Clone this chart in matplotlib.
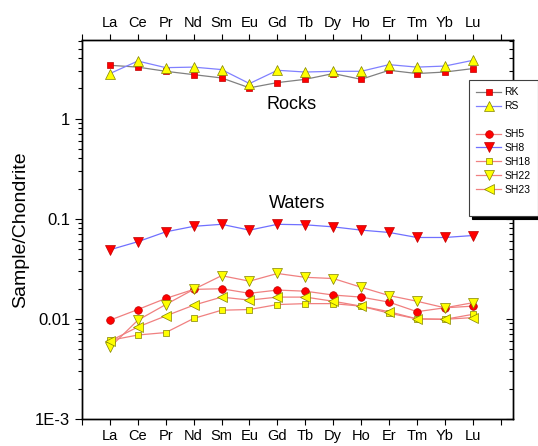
import matplotlib
matplotlib.use("Agg")
import matplotlib.pyplot as plt
from matplotlib.lines import Line2D
from matplotlib.ticker import FixedLocator, FixedFormatter, LogLocator, NullFormatter

plt.rcParams['font.family'] = ['Liberation Sans', 'DejaVu Sans']

# REE elements (x axis)
elements = ['La', 'Ce', 'Pr', 'Nd', 'Sm', 'Eu', 'Gd', 'Tb', 'Dy', 'Ho', 'Er', 'Tm', 'Yb', 'Lu']

# Rocks
rk = [3.41, 3.27, 2.97, 2.75, 2.55, 2.03, 2.29, 2.47, 2.82, 2.47, 3.04, 2.82, 2.92, 3.16]
rs = [2.82, 3.76, 3.23, 3.27, 3.09, 2.24, 3.04, 2.92, 2.97, 2.97, 3.46, 3.27, 3.35, 3.82]

# Waters
sh5 = [0.0097, 0.0124, 0.0160, 0.0197, 0.0200, 0.0180, 0.0194, 0.0189, 0.0173, 0.0165, 0.0147, 0.0118, 0.0129, 0.0134]
sh8 = [0.049, 0.059, 0.074, 0.084, 0.088, 0.077, 0.088, 0.087, 0.083, 0.077, 0.073, 0.065, 0.065, 0.068]
sh18 = [0.0061, 0.0069, 0.0073, 0.0101, 0.0122, 0.0124, 0.0139, 0.0142, 0.0142, 0.0134, 0.0114, 0.0100, 0.0099, 0.0111]
sh22 = [0.0052, 0.0097, 0.0139, 0.0197, 0.0270, 0.0238, 0.0284, 0.0260, 0.0253, 0.0207, 0.0171, 0.0150, 0.0129, 0.0145]
sh23 = [0.0060, 0.0083, 0.0107, 0.0137, 0.0165, 0.0154, 0.0165, 0.0165, 0.0150, 0.0134, 0.0118, 0.0100, 0.0099, 0.0103]

x = list(range(1, len(elements) + 1))

fig = plt.figure(figsize=(5.38, 4.46), dpi=100)
ax = fig.add_axes([82 / 538, 27 / 446, 431 / 538, 379 / 446])

RED = '#ff0000'
YEL = '#ffff00'

series = [
    ('RK', rk, 's', RED, '#c00000', '#808080', 5),
    ('RS', rs, '^', YEL, '#808000', '#8080ff', 7),
    ('SH5', sh5, 'o', RED, '#c00000', '#f08080', 5.5),
    ('SH8', sh8, 'v', RED, '#c00000', '#7070ff', 6.5),
    ('SH18', sh18, 's', YEL, '#808000', '#f08080', 5),
    ('SH22', sh22, 'v', YEL, '#808000', '#f08080', 7),
    ('SH23', sh23, '<', YEL, '#808000', '#f08080', 7),
]

handles = {}
for name, vals, mk, fc, ec, lc, ms in series:
    h, = ax.plot(x, vals, color=lc, lw=0.9, marker=mk, ms=ms,
                 markerfacecolor=fc, markeredgecolor=ec, markeredgewidth=0.5,
                 label=name)
    handles[name] = h

ax.set_yscale('log')
ax.set_ylim(1e-3, 6.1)
ax.set_xlim(0, 15.44)

ax.set_xticks(range(0, 16))
ax.set_xticklabels([''] + elements + [''], fontsize=10.5)
ax.tick_params(axis='x', which='both', top=True, bottom=True,
               labeltop=True, labelbottom=True, direction='out', length=4, width=0.8)

ax.yaxis.set_major_locator(FixedLocator([1e-3, 1e-2, 1e-1, 1]))
ax.yaxis.set_major_formatter(FixedFormatter(['1E-3', '0.01', '0.1', '1']))
ax.yaxis.set_minor_locator(LogLocator(base=10, subs=range(2, 10)))
ax.yaxis.set_minor_formatter(NullFormatter())
ax.tick_params(axis='y', which='major', left=True, right=False, direction='out',
               length=5, width=0.8, labelsize=12)
ax.tick_params(axis='y', which='minor', left=True, right=False, direction='out',
               length=3, width=0.8)
# inward ticks on the right spine
ax2 = ax.twinx()
ax2.set_yscale('log')
ax2.set_ylim(ax.get_ylim())
ax2.yaxis.set_major_locator(FixedLocator([1e-3, 1e-2, 1e-1, 1]))
ax2.yaxis.set_minor_locator(LogLocator(base=10, subs=range(2, 10)))
ax2.yaxis.set_major_formatter(NullFormatter())
ax2.yaxis.set_minor_formatter(NullFormatter())
ax2.tick_params(axis='y', which='major', direction='in', length=5, width=0.8)
ax2.tick_params(axis='y', which='minor', direction='in', length=3, width=0.8)

for a in (ax, ax2):
    for s in a.spines.values():
        s.set_linewidth(1.0)

ax.set_ylabel('Sample/Chondrite', fontsize=14, labelpad=4)

ax.text(7.5, 1.38, 'Rocks', fontsize=13, ha='center', va='center')
ax.text(7.7, 0.143, 'Waters', fontsize=13, ha='center', va='center')

blank = Line2D([], [], linestyle='none', marker='none')
leg_handles = [handles['RK'], handles['RS'], blank, handles['SH5'], handles['SH8'],
               handles['SH18'], handles['SH22'], handles['SH23'], blank]
leg_labels = ['RK', 'RS', ' ', 'SH5', 'SH8', 'SH18', 'SH22', 'SH23', ' ']
leg = ax2.legend(leg_handles, leg_labels, loc='upper left',
                 bbox_to_anchor=(469 / 538, 1 - 80 / 446), bbox_transform=fig.transFigure,
                 borderaxespad=0.0,
                 fontsize=7.5, frameon=True, fancybox=False, edgecolor='#404040',
                 shadow={'color': 'black', 'alpha': 1.0},
                 handlelength=2.4, handletextpad=0.3, labelspacing=0.38,
                 borderpad=0.7, markerscale=1.0)
leg.get_frame().set_linewidth(0.8)

fig.savefig('out.png', dpi=100)
